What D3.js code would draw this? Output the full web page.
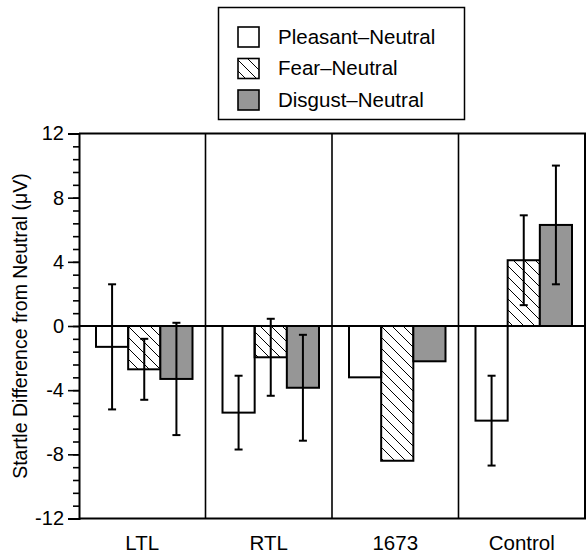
<!DOCTYPE html>
<html>
<head>
<meta charset="utf-8">
<script src="https://cdn.jsdelivr.net/npm/d3@7"></script>
<style>
  body { margin: 0; background: #fff; }
  text { font-family: "Liberation Sans", Arial, Helvetica, sans-serif; fill: #000; }
</style>
</head>
<body>
<div id="chart"></div>
<script>
// chart data
let groups = ["LTL", "RTL", "1673", "Control"];
let series = ["Pleasant–Neutral", "Fear–Neutral", "Disgust–Neutral"];
let pleasant = [-1.3, -5.4, -3.2, -5.9];
let fear = [-2.7, -1.95, -8.4, 4.1];
let disgust = [-3.3, -3.85, -2.2, 6.3];
// half-length of error bars (null = no bar, single patient)
let pleasantErr = [3.9, 2.3, null, 2.8];
let fearErr = [1.9, 2.4, null, 2.8];
let disgustErr = [3.5, 3.3, null, 3.7];
let yTicks = [-12, -8, -4, 0, 4, 8, 12];
let yDomain = [-12, 12];

let width = 586, height = 556;
let plotL = 79, plotR = 585, plotT = 133.5, plotB = 518.5;

let svg = d3.select("#chart").append("svg")
  .attr("width", width)
  .attr("height", height);

// hatch for Fear-Neutral
let defs = svg.append("defs");
let s = 11;
defs.append("pattern")
  .attr("id", "hatch")
  .attr("patternUnits", "userSpaceOnUse")
  .attr("width", s).attr("height", s)
  .append("path")
  .attr("d", `M0,0L${s},${s}M-1,${s - 1}L1,${s + 1}M${s - 1},-1L${s + 1},1`)
  .attr("stroke", "#000")
  .attr("stroke-width", 1);

let fills = ["#fff", "url(#hatch)", "#969696"];

// scales
let x0 = d3.scaleBand().domain(groups).range([plotL, plotR]);
let x1 = d3.scaleBand().domain(series).range([17, x0.bandwidth() - 13]);
let y = d3.scaleLinear().domain(yDomain).range([plotB, plotT]);

let values = [pleasant, fear, disgust];
let errs = [pleasantErr, fearErr, disgustErr];

let rows = [];
groups.forEach((g, i) => {
  series.forEach((sr, j) => {
    rows.push({ group: g, series: sr, k: j, value: values[j][i], err: errs[j][i] });
  });
});

// bars
svg.append("g").selectAll("rect")
  .data(rows)
  .join("rect")
  .attr("x", d => x0(d.group) + x1(d.series))
  .attr("width", x1.bandwidth())
  .attr("y", d => y(Math.max(0, d.value)))
  .attr("height", d => Math.abs(y(d.value) - y(0)))
  .attr("fill", d => fills[d.k])
  .attr("stroke", "#000")
  .attr("stroke-width", 2);

// error bars
let eb = svg.append("g").selectAll("g")
  .data(rows.filter(d => d.err != null))
  .join("g")
  .attr("stroke", "#000")
  .attr("stroke-width", 2);

let cx = d => x0(d.group) + x1(d.series) + x1.bandwidth() / 2;
eb.append("line")
  .attr("x1", cx).attr("x2", cx)
  .attr("y1", d => y(d.value + d.err))
  .attr("y2", d => y(d.value - d.err));
eb.append("line")
  .attr("x1", d => cx(d) - 4).attr("x2", d => cx(d) + 4)
  .attr("y1", d => y(d.value + d.err)).attr("y2", d => y(d.value + d.err));
eb.append("line")
  .attr("x1", d => cx(d) - 4).attr("x2", d => cx(d) + 4)
  .attr("y1", d => y(d.value - d.err)).attr("y2", d => y(d.value - d.err));

// frame, zero line, panel dividers
svg.append("line")
  .attr("x1", plotL).attr("x2", plotR)
  .attr("y1", y(0)).attr("y2", y(0))
  .attr("stroke", "#000").attr("stroke-width", 2);

svg.append("g").selectAll("line")
  .data(groups.slice(1))
  .join("line")
  .attr("x1", d => x0(d)).attr("x2", d => x0(d))
  .attr("y1", plotT).attr("y2", plotB)
  .attr("stroke", "#000").attr("stroke-width", 1.6);

svg.append("path")
  .attr("d", `M${plotL},${plotT}H${plotR}V${plotB}H${plotL}`)
  .attr("fill", "none")
  .attr("stroke", "#000")
  .attr("stroke-width", 2);

// y axis: minor then major ticks
let minor = d3.range(yDomain[0], yDomain[1] + 0.001, 0.8);
svg.append("g")
  .attr("transform", `translate(${plotL},0)`)
  .call(d3.axisLeft(y).tickValues(minor).tickSize(6).tickFormat(""))
  .call(g => g.select(".domain").remove())
  .call(g => g.selectAll("line").attr("stroke-width", 1.6));

svg.append("g")
  .attr("transform", `translate(${plotL},0)`)
  .call(d3.axisLeft(y).tickValues(yTicks).tickSize(11).tickPadding(4).tickFormat(d => String(d)))
  .call(g => g.select(".domain").attr("stroke-width", 2))
  .call(g => g.selectAll("line").attr("stroke-width", 1.6))
  .call(g => g.selectAll("text").attr("font-size", 20).attr("font-family", null).attr("fill", "#000"));

// x labels
svg.append("g").selectAll("text")
  .data(groups)
  .join("text")
  .attr("x", d => x0(d) + x0.bandwidth() / 2)
  .attr("y", 550)
  .attr("text-anchor", "middle")
  .attr("font-size", 20.5)
  .text(d => d);

// y title
svg.append("text")
  .attr("transform", `translate(27,${(plotT + plotB) / 2}) rotate(-90)`)
  .attr("text-anchor", "middle")
  .attr("font-size", 19.5)
  .text("Startle Difference from Neutral (μV)");

// legend
let lg = svg.append("g");
lg.append("rect")
  .attr("x", 218.5).attr("y", 7.5)
  .attr("width", 246).attr("height", 112)
  .attr("fill", "#fff").attr("stroke", "#000").attr("stroke-width", 1.5);

let item = lg.selectAll("g.item")
  .data(series)
  .join("g")
  .attr("class", "item")
  .attr("transform", (d, i) => `translate(0,${43.5 + i * 31.5})`);

item.append("rect")
  .attr("x", 238).attr("y", -16.5)
  .attr("width", 21).attr("height", 20)
  .attr("fill", (d, i) => fills[i])
  .attr("stroke", "#000").attr("stroke-width", 1.6);

item.append("text")
  .attr("x", 278).attr("y", 0)
  .attr("font-size", 20.5)
  .text(d => d);
</script>
</body>
</html>
